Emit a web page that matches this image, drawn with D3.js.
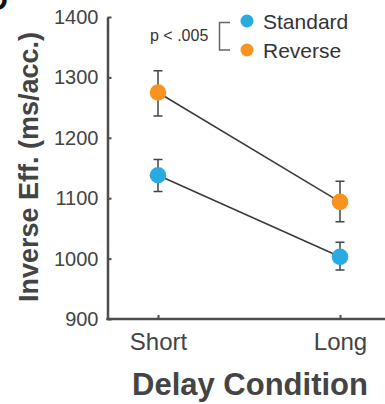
<!DOCTYPE html>
<html>
<head>
<meta charset="utf-8">
<script src="https://cdn.jsdelivr.net/npm/d3@7"></script>
<style>
  body { margin: 0; background: #fff; }
  svg { display: block; font-family: 'Liberation Sans', Arial, sans-serif; }
</style>
</head>
<body>
<div class="chart"></div>
<script>
// values
const conditions = ['Short', 'Long'];
const seriesNames = ['Standard', 'Reverse'];
const seriesColors = ['#29abe2', '#f7931e'];
const standardMean = [1138, 1003];
const standardLow = [1111, 981];
const standardHigh = [1164, 1027];
const reverseMean = [1275, 1094];
const reverseLow = [1236, 1061];
const reverseHigh = [1311, 1128];
const yTicks = [900, 1000, 1100, 1200, 1300, 1400];

const width = 385,
  height = 404,
  axisColor = '#4d4d4d',
  textColor = '#444';

const series = [
  { name: seriesNames[0], color: seriesColors[0], mean: standardMean, lo: standardLow, hi: standardHigh },
  { name: seriesNames[1], color: seriesColors[1], mean: reverseMean, lo: reverseLow, hi: reverseHigh }
];

const svg = d3
  .select('.chart')
  .append('svg')
  .attr('width', width)
  .attr('height', height);

const y = d3.scaleLinear().domain([900, 1400]).range([319, 17]);
const x = d3.scalePoint().domain(conditions).range([158, 340]);
const x0 = 107.5;

// panel letter, mostly cut off (as in the source figure)
svg.append('text')
  .attr('x', 8)
  .attr('y', 10)
  .attr('text-anchor', 'end')
  .style('font-size', '30px')
  .style('font-weight', 'bold')
  .attr('fill', '#111')
  .text('D');

// y axis
const yAxis = svg.append('g')
  .attr('transform', `translate(${x0},0)`)
  .call(d3.axisLeft(y).tickValues(yTicks).tickFormat(d3.format('d')).tickSizeInner(-4).tickSizeOuter(0).tickPadding(9));
yAxis.select('.domain').attr('stroke', axisColor).attr('stroke-width', 2.5);
yAxis.selectAll('.tick line').attr('stroke', axisColor).attr('stroke-width', 2);
yAxis.selectAll('.tick text')
  .style('font-size', '20px')
  .style('font-family', "'Liberation Sans', Arial, sans-serif")
  .attr('fill', textColor);

// x axis
const xAxis = svg.append('g')
  .attr('transform', `translate(0,${y(900)})`)
  .call(d3.axisBottom(x).tickSizeInner(-4).tickSizeOuter(0).tickPadding(14));
xAxis.select('.domain').attr('d', `M${x0 - 1.25},0H${width}`).attr('stroke', axisColor).attr('stroke-width', 2.5);
xAxis.selectAll('.tick line').attr('stroke', axisColor).attr('stroke-width', 2);
xAxis.selectAll('.tick text')
  .style('font-size', '24px')
  .style('font-family', "'Liberation Sans', Arial, sans-serif")
  .attr('fill', textColor);

// axis titles
svg.append('text')
  .attr('transform', `translate(38,167) rotate(-90)`)
  .attr('text-anchor', 'middle')
  .style('font-size', '27px')
  .style('font-weight', 'bold')
  .attr('fill', textColor)
  .text('Inverse Eff. (ms/acc.)');

svg.append('text')
  .attr('x', 250)
  .attr('y', 395)
  .attr('text-anchor', 'middle')
  .style('font-size', '31px')
  .style('font-weight', 'bold')
  .attr('fill', textColor)
  .text('Delay Condition');

// connecting lines
const line = d3.line()
  .x((d, i) => x(conditions[i]))
  .y(d => y(d));

svg.selectAll('.conn')
  .data(series)
  .enter()
  .append('path')
  .attr('class', 'conn')
  .attr('d', d => line(d.mean))
  .attr('fill', 'none')
  .attr('stroke', '#3a3a3a')
  .attr('stroke-width', 1.5);

// error bars + markers
series.forEach(s => {
  const g = svg.append('g');
  conditions.forEach((c, i) => {
    const cx = x(c);
    g.append('path')
      .attr('d', `M${cx - 4.5},${y(s.hi[i])}H${cx + 4.5}M${cx},${y(s.hi[i])}V${y(s.lo[i])}M${cx - 4.5},${y(s.lo[i])}H${cx + 4.5}`)
      .attr('fill', 'none')
      .attr('stroke', '#444')
      .attr('stroke-width', 1.5);
    g.append('circle')
      .attr('cx', cx)
      .attr('cy', y(s.mean[i]))
      .attr('r', 8.3)
      .attr('fill', s.color);
  });
});

// legend
const legend = svg.append('g');
series.forEach((s, i) => {
  legend.append('circle')
    .attr('cx', 247)
    .attr('cy', 21 + i * 29)
    .attr('r', 6.5)
    .attr('fill', s.color);
  legend.append('text')
    .attr('x', 263)
    .attr('y', 29 + i * 29)
    .style('font-size', '21px')
    .attr('fill', '#333')
    .text(s.name);
});

legend.append('path')
  .attr('d', 'M230,22.5H219.5V50H230')
  .attr('fill', 'none')
  .attr('stroke', '#666')
  .attr('stroke-width', 1.5);

legend.append('text')
  .attr('x', 150)
  .attr('y', 41)
  .style('font-size', '16px')
  .attr('fill', '#333')
  .text('p < .005');
</script>
</body>
</html>
